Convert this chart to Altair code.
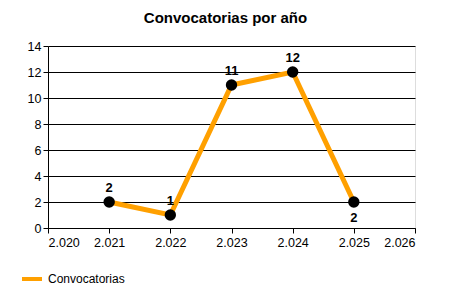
import altair as alt
import pandas as pd

years = [2021, 2022, 2023, 2024, 2025]
values = [2, 1, 11, 12, 2]
label_pos = ["above", "above", "above", "above", "below"]
series = ["Convocatorias"] * 5

df = pd.DataFrame({"year": years, "value": values, "pos": label_pos, "serie": series})

FONT = "Liberation Sans"
ORANGE = "#FFA000"

x = alt.X("year:Q", scale=alt.Scale(domain=[2020, 2026], nice=False, zero=False),
          axis=alt.Axis(title=None, values=[2020, 2021, 2022, 2023, 2024, 2025, 2026],
                        labelExpr="replace(format(datum.value, ',d'), ',', '.')",
                        grid=False, domainColor="black", tickColor="black", tickSize=5,
                        labelFontSize=12.5, labelColor="black", labelFont=FONT, labelPadding=3))
y = alt.Y("value:Q", scale=alt.Scale(domain=[0, 14], nice=False),
          axis=alt.Axis(title=None, values=list(range(0, 15, 2)), grid=True, gridColor="black",
                        gridOpacity=1, domainColor="black", tickColor="black", tickSize=5,
                        labelFontSize=12.5, labelColor="black", labelFont=FONT, labelPadding=2))

line = alt.Chart(df).mark_line(strokeWidth=5, strokeJoin="miter").encode(
    x=x, y=y,
    color=alt.Color("serie:N", scale=alt.Scale(range=[ORANGE]),
                    legend=alt.Legend(title=None, orient="none", legendX=-28, legendY=221,
                                      symbolType="stroke", symbolStrokeWidth=4, symbolSize=400,
                                      labelFont=FONT, labelFontSize=12, labelColor="black")))
points = alt.Chart(df).mark_point(filled=True, size=130, color="black", opacity=1).encode(x=x, y=y)

txt_above = alt.Chart(df).transform_filter("datum.pos == 'above'").mark_text(
    dy=-14, fontWeight="bold", fontSize=13, font=FONT, color="black").encode(
    x=x, y=y, text="value:Q")
txt_below = alt.Chart(df).transform_filter("datum.pos == 'below'").mark_text(
    dy=16, fontWeight="bold", fontSize=13, font=FONT, color="black").encode(
    x=x, y=y, text="value:Q")

chart = alt.layer(line, points, txt_above, txt_below).properties(
    width=367, height=182,
    title=alt.TitleParams("Convocatorias por año", font=FONT, fontSize=15, fontWeight="bold",
                          color="black", anchor="middle", offset=14, dx=-6),
    padding={"left": 48, "top": 46, "right": 35, "bottom": 72},
    autosize=alt.AutoSizeParams(type="none"),
).configure_view(stroke=None).configure(background="white")

chart.save("out.html", embed_options={"renderer": "svg", "actions": False})
